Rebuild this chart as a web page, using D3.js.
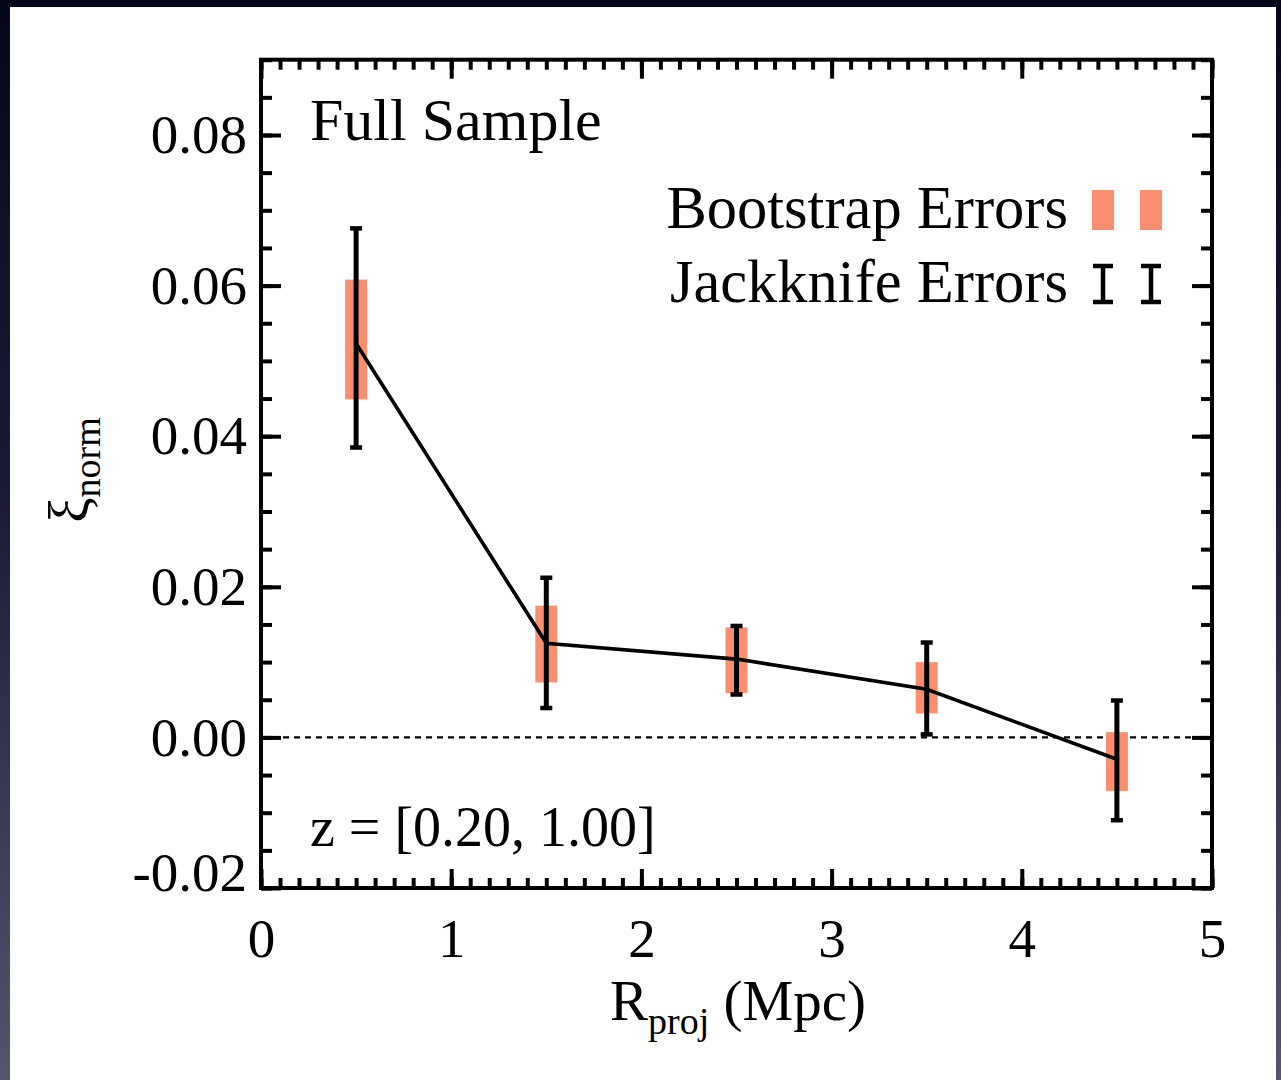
<!DOCTYPE html>
<html>
<head>
<meta charset="utf-8">
<script src="https://cdn.jsdelivr.net/npm/d3@7"></script>
<style>
  html, body { margin: 0; padding: 0; }
  body {
    width: 1281px; height: 1080px; overflow: hidden;
    background: linear-gradient(to bottom, #07071c 0%, #1a1a38 45%, #55556f 100%);
  }
  text { font-family: "Liberation Serif", "Times New Roman", serif; fill: #000; }
</style>
</head>
<body>
<div id="chart"></div>
<script>
// data
var rProj = [0.5, 1.5, 2.5, 3.5, 4.5];
var xiNorm = [0.0523, 0.0125, 0.0104, 0.0064, -0.0029];
var bootLo = [0.0449, 0.0073, 0.0059, 0.0032, -0.0071];
var bootHi = [0.0608, 0.0175, 0.0146, 0.0100, 0.0007];
var jackLo = [0.0385, 0.0039, 0.0057, 0.0004, -0.0110];
var jackHi = [0.0676, 0.0212, 0.0148, 0.0126, 0.0049];

var xTicks = [0, 1, 2, 3, 4, 5];
var yTicks = [-0.02, 0, 0.02, 0.04, 0.06, 0.08];
var xMinor = d3.range(0, 5.001, 0.1);
var yMinor = d3.range(-0.02, 0.0901, 0.005);

var width = 1281,
  height = 1080;

var svg = d3.select('#chart')
  .append('svg')
  .attr('width', width)
  .attr('height', height)

// white panel
svg.append('rect')
  .attr('x', 10).attr('y', 7)
  .attr('width', 1266).attr('height', 1073)
  .attr('fill', '#fff')

var x = d3.scaleLinear().domain([0, 5]).range([261, 1212]);
var y = d3.scaleLinear().domain([-0.02, 0.09]).range([888, 59.7]);

var fmt = d => d.toFixed(2);

// axes, ticks pointing in
function drawAxis(axis, tx, ty, cls) {
  var g = svg.append('g')
    .attr('class', cls)
    .attr('transform', 'translate(' + tx + ',' + ty + ')')
    .call(axis);
  g.select('.domain').remove();
  g.selectAll('line').attr('stroke', '#000').attr('stroke-width', 4);
  g.selectAll('text').style('font-size', '55px').attr('fill', '#000');
  return g;
}

drawAxis(d3.axisLeft(y).tickValues(yMinor).tickSize(-11).tickFormat(''), x(0), 0, 'minor');
drawAxis(d3.axisRight(y).tickValues(yMinor).tickSize(-11).tickFormat(''), x(5), 0, 'minor');
drawAxis(d3.axisBottom(x).tickValues(xMinor).tickSize(-10).tickFormat(''), 0, y(-0.02), 'minor');
drawAxis(d3.axisTop(x).tickValues(xMinor).tickSize(-10).tickFormat(''), 0, y(0.09), 'minor');

var yl = drawAxis(d3.axisLeft(y).tickValues(yTicks).tickSize(-20).tickPadding(14).tickFormat(fmt), x(0), 0, 'major');
// lowest label sits above the bottom frame line
yl.selectAll('.tick text').filter(d => d === -0.02).attr('dy', '0.05em');
drawAxis(d3.axisRight(y).tickValues(yTicks).tickSize(-20).tickFormat(''), x(5), 0, 'major');
drawAxis(d3.axisBottom(x).tickValues(xTicks).tickSize(-19).tickPadding(30).tickFormat(d3.format('d')), 0, y(-0.02), 'major');
drawAxis(d3.axisTop(x).tickValues(xTicks).tickSize(-19).tickFormat(''), 0, y(0.09), 'major');

// zero line
svg.append('line')
  .attr('x1', x(0)).attr('x2', x(5))
  .attr('y1', y(0)).attr('y2', y(0))
  .attr('stroke', '#000')
  .attr('stroke-width', 2.2)
  .attr('stroke-dasharray', '6,5')

// bootstrap boxes
svg.selectAll('rect.boot')
  .data(rProj)
  .join('rect')
  .attr('class', 'boot')
  .attr('x', d => x(d) - 11)
  .attr('width', 22)
  .attr('y', (d, i) => y(bootHi[i]))
  .attr('height', (d, i) => y(bootLo[i]) - y(bootHi[i]))
  .attr('fill', '#f98f6f')

// connecting line
var line = d3.line()
  .x(d => x(d[0]))
  .y(d => y(d[1]));

svg.append('path')
  .datum(rProj.map((d, i) => [d, xiNorm[i]]))
  .attr('d', line)
  .attr('fill', 'none')
  .attr('stroke', '#000')
  .attr('stroke-width', 3.6)

// jackknife bars
var jack = svg.selectAll('g.jack')
  .data(rProj)
  .join('g')
  .attr('class', 'jack')

jack.append('line')
  .attr('x1', d => x(d)).attr('x2', d => x(d))
  .attr('y1', (d, i) => y(jackHi[i]))
  .attr('y2', (d, i) => y(jackLo[i]))
  .attr('stroke', '#000').attr('stroke-width', 5)

jack.selectAll('line.cap')
  .data((d, i) => [[d, jackHi[i]], [d, jackLo[i]]])
  .join('line')
  .attr('class', 'cap')
  .attr('x1', d => x(d[0]) - 6).attr('x2', d => x(d[0]) + 6)
  .attr('y1', d => y(d[1])).attr('y2', d => y(d[1]))
  .attr('stroke', '#000').attr('stroke-width', 4.5)

// frame
svg.append('rect')
  .attr('x', x(0)).attr('y', y(0.09))
  .attr('width', x(5) - x(0))
  .attr('height', y(-0.02) - y(0.09))
  .attr('fill', 'none')
  .attr('stroke', '#000')
  .attr('stroke-width', 4)

// annotations
svg.append('text')
  .attr('x', 310).attr('y', 140)
  .style('font-size', '60px')
  .text('Full Sample')

svg.append('text')
  .attr('x', 310).attr('y', 846)
  .style('font-size', '56px')
  .text('z = [0.20, 1.00]')

// legend
var legend = svg.append('g').attr('class', 'legend');
legend.append('text')
  .attr('x', 1068).attr('y', 228)
  .attr('text-anchor', 'end')
  .style('font-size', '60.5px')
  .text('Bootstrap Errors')
legend.append('text')
  .attr('x', 1068).attr('y', 302)
  .attr('text-anchor', 'end')
  .style('font-size', '60.5px')
  .text('Jackknife Errors')

legend.selectAll('rect')
  .data([1103, 1151])
  .join('rect')
  .attr('x', d => d - 11).attr('y', 190)
  .attr('width', 22).attr('height', 40)
  .attr('fill', '#f98f6f')

legend.selectAll('path')
  .data([1103, 1151])
  .join('path')
  .attr('d', d => 'M' + (d - 10) + ',266H' + (d + 10) + 'M' + d + ',266V302M' + (d - 10) + ',302H' + (d + 10))
  .attr('fill', 'none')
  .attr('stroke', '#000')
  .attr('stroke-width', 4.5)

// axis titles
var xt = svg.append('text')
  .attr('x', 738).attr('y', 1020)
  .attr('text-anchor', 'middle')
  .style('font-size', '57px')
xt.append('tspan').text('R')
xt.append('tspan').attr('dy', 14).style('font-size', '38px').text('proj')
xt.append('tspan').attr('dy', -14).text(' (Mpc)')

var yt = svg.append('text')
  .attr('transform', 'translate(88,470) rotate(-90)')
  .attr('text-anchor', 'middle')
  .style('font-size', '57px')
yt.append('tspan').text('ξ')
yt.append('tspan').attr('dy', 12).style('font-size', '38px').text('norm')
</script>
</body>
</html>
